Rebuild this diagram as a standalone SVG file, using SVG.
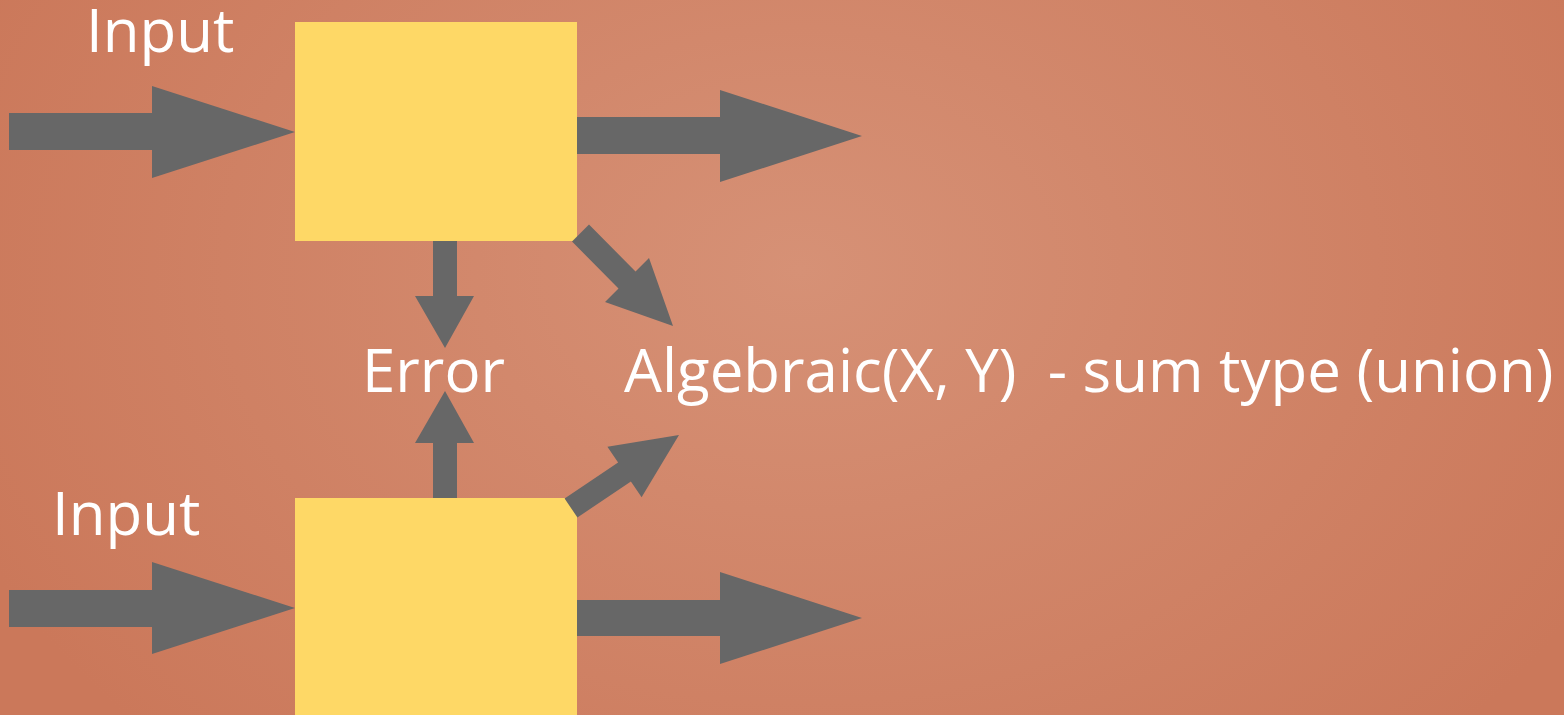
<svg xmlns="http://www.w3.org/2000/svg" width="1564" height="715" viewBox="0 0 1564 715">
  <defs>
    <radialGradient id="bg" gradientUnits="userSpaceOnUse" cx="800" cy="270" r="900" gradientTransform="translate(800 270) scale(1 0.75) translate(-800 -270)">
      <stop offset="0" stop-color="#d69176"/>
      <stop offset="1" stop-color="#cb785a"/>
    </radialGradient>
    <style>
      .box { fill: #fed866; }
      .arrow { fill: #676767; }
      .label { fill: #ffffff; font-family: "Open Sans", "Noto Sans", sans-serif; font-size: 60px; white-space: pre; }
    </style>
  </defs>
  <rect x="0" y="0" width="1564" height="715" fill="url(#bg)"/>

  <g id="box-top">
    <rect class="box" x="295" y="22" width="282" height="219"/>
  </g>
  <g id="box-bottom">
    <rect class="box" x="295" y="498" width="282" height="217"/>
  </g>

  <g id="connectors">
    <!-- top input -->
    <polygon class="arrow" points="9,113 152,113 152,86 295,132 152,178 152,150 9,150"/>
    <!-- top output -->
    <polygon class="arrow" points="577,117 720,117 720,90 862,136 720,182 720,154 577,154"/>
    <!-- bottom input -->
    <polygon class="arrow" points="9,590 152,590 152,562 295,608 152,654 152,627 9,627"/>
    <!-- bottom output -->
    <polygon class="arrow" points="577,600 720,600 720,572 862,618 720,664 720,636 577,636"/>
    <!-- top box down to Error -->
    <polygon class="arrow" points="433,241 457,241 457,296 474,296 445,348 415,296 433,296"/>
    <!-- bottom box up to Error -->
    <polygon class="arrow" points="433,498 457,498 457,443 474,443 445,391 415,443 433,443"/>
    <!-- top box diagonal to Algebraic -->
    <polygon class="arrow" points="589,224.5 635.5,271.5 649,258 673,326 605,302 618.5,288.5 572,241.5"/>
    <!-- bottom box diagonal to Algebraic -->
    <polygon class="arrow" points="577.4,517.5 630.9,481.5 641.6,497.3 679,435 607.4,446.7 618.1,462.5 564.6,498.5"/>
  </g>

  <g id="label-input-top">
    <text class="label" x="86" y="52">Input</text>
  </g>
  <g id="label-input-bottom">
    <text class="label" x="52" y="535">Input</text>
  </g>
  <g id="label-error">
    <text class="label" x="362" y="392">Error</text>
  </g>
  <g id="label-algebraic">
    <text class="label" x="624" y="392">Algebraic(X, Y)  - sum type (union)</text>
  </g>
</svg>
